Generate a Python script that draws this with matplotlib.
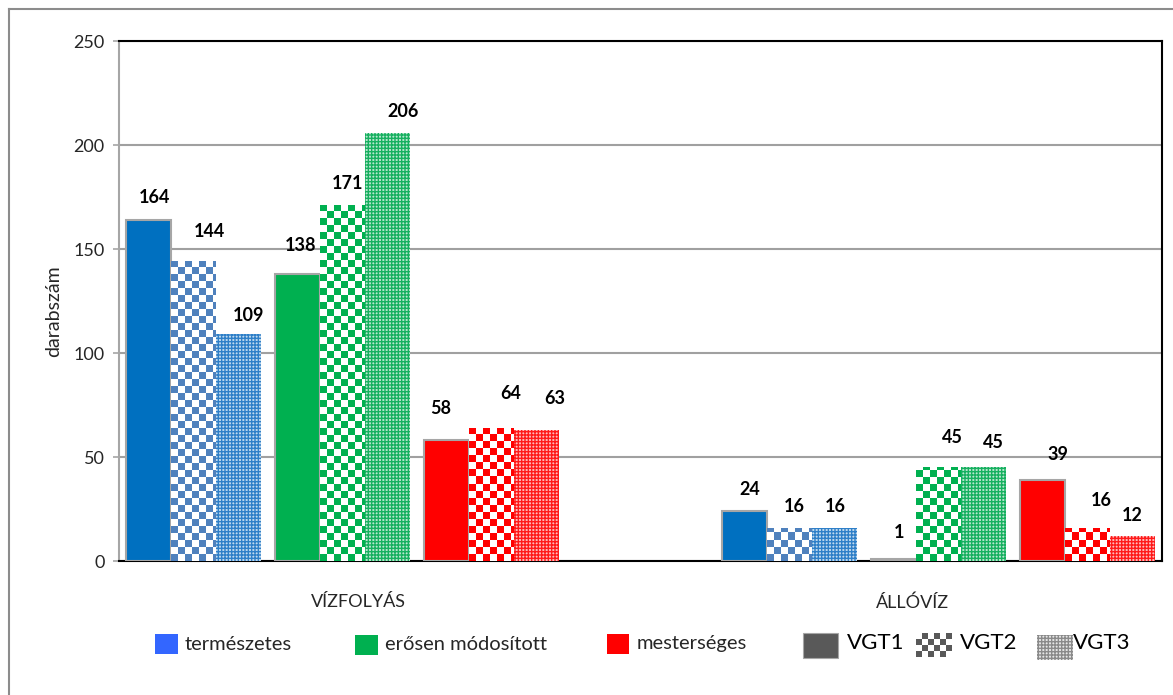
import numpy as np
import matplotlib
matplotlib.use("Agg")
import matplotlib.pyplot as plt
from matplotlib.colors import to_rgb
from matplotlib.patches import Rectangle
from matplotlib.lines import Line2D

# ---- data -------------------------------------------------------------
water_types = ["VÍZFOLYÁS", "ÁLLÓVÍZ"]
classes = ["természetes", "erősen módosított", "mesterséges"]
periods = ["VGT1", "VGT2", "VGT3"]

# counts[class][period]
vizfolyas_counts = [[164, 144, 109],
                    [138, 171, 206],
                    [58, 64, 63]]
allovi_counts = [[24, 16, 16],
                 [1, 45, 45],
                 [39, 16, 12]]

y_ticks = [0, 50, 100, 150, 200, 250]

# ---- style ------------------------------------------------------------
W, H = 1173, 695
DPI = 100
solid_colors = ["#0070C0", "#00B050", "#FF0000"]
check_colors = ["#4F81BD", "#00B050", "#FF0000"]
fine_colors = ["#2E7FC8", "#17B060", "#FF1A1A"]
legend_colors = ["#3366FF", "#00B050", "#FF0000"]
FONT = "Lato"
TXT = "#262626"
MESH = "+++++"

# label offsets (pixels) from the top-centre of each bar
viz_offsets = [[(6, 22), (16, 30), (10, 19)],
               [(3, 28), (5, 22), (16, 21)],
               [(-6, 32), (19, 34), (18, 31)]]
all_offsets = [[(5, 22), (5, 21), (1, 21)],
               [(6, 26), (14, 30), (10, 25)],
               [(15, 25), (14, 27), (0, 21)]]

plt.rcParams["font.family"] = [FONT, "DejaVu Sans"]
plt.rcParams["hatch.linewidth"] = 1.0

fig = plt.figure(figsize=(W / DPI, H / DPI), dpi=DPI)
ax_left, ax_right, ax_top, ax_bottom = 119, 1162, 41, 561
ax = fig.add_axes([ax_left / W, 1 - ax_bottom / H,
                   (ax_right - ax_left) / W, (ax_bottom - ax_top) / H])

x_span = ax_right - ax_left          # x data units == pixels
y_max = 250
px_per_unit = (ax_bottom - ax_top) / y_max

bar_w = 45
class_step = 149
group_starts = [7, 603]
tick_pos = [239, 794]


def tint(color, amount):
    base = np.array(to_rgb(color))
    return tuple(amount * base + (1 - amount))


def checker_image(color, nx, ny):
    """Checkerboard (colour / white), one array cell per pattern cell."""
    ii, jj = np.indices((ny, nx))
    mask = ((ii + jj) % 2 == 0)[..., None]
    return np.where(mask, np.array(to_rgb(color)), np.array([1.0, 1.0, 1.0]))


for g, counts in enumerate([vizfolyas_counts, allovi_counts]):
    offsets = [viz_offsets, all_offsets][g]
    for c in range(3):
        for p in range(3):
            v = counts[c][p]
            x0 = group_starts[g] + c * class_step + p * bar_w
            if p == 0:
                ax.bar(x0, v, width=bar_w, align="edge",
                       color=solid_colors[c], edgecolor="#A6A6A6",
                       linewidth=1.5, zorder=3)
            elif p == 1:
                bars = ax.bar(x0, v, width=bar_w, align="edge",
                              facecolor="none", edgecolor="none",
                              linewidth=0, zorder=3)
                cell = 7
                h_px = v * px_per_unit
                nx = int(np.ceil(bar_w / cell))
                ny = int(np.ceil(h_px / cell)) + 1
                im = ax.imshow(checker_image(check_colors[c], nx, ny),
                               extent=(x0, x0 + nx * cell, 0,
                                       ny * cell / px_per_unit),
                               origin="lower", aspect="auto",
                               interpolation="nearest", zorder=3)
                im.set_clip_path(bars[0])
            else:
                ax.bar(x0, v, width=bar_w, align="edge",
                       facecolor=tint(fine_colors[c], 0.3),
                       edgecolor=fine_colors[c], hatch=MESH,
                       linewidth=0, zorder=3)
            dx, dy = offsets[c][p]
            ax.annotate(str(v), xy=(x0 + bar_w / 2, v), xytext=(dx, dy),
                        textcoords="offset pixels", ha="center",
                        va="center", fontsize=13, fontweight="bold",
                        color="black", zorder=5)

ax.set_xlim(0, x_span)
ax.set_ylim(0, y_max)
ax.set_yticks(y_ticks)
ax.set_xticks(tick_pos)
ax.set_xticklabels(water_types)
ax.tick_params(axis="x", length=0, pad=24, labelsize=13, labelcolor=TXT)
ax.tick_params(axis="y", length=4.5, width=1.2, color="#A6A6A6", pad=6,
               labelsize=13, labelcolor=TXT)
ax.yaxis.grid(True, color="#A0A0A0", linewidth=1.5)
ax.set_axisbelow(True)
for side in ["top", "right", "bottom"]:
    ax.spines[side].set_color("black")
    ax.spines[side].set_linewidth(1.5)
ax.spines["left"].set_color("#A6A6A6")
ax.spines["left"].set_linewidth(1.5)

fig.text(54 / W, 1 - 311 / H, "darabszám", rotation=90, ha="center",
         va="center", fontsize=14, color=TXT)

# outer chart frame
fig.add_artist(Line2D([9 / W, 9 / W], [1 - 9 / H, 0], color="#8C8C8C",
                      linewidth=1.5, transform=fig.transFigure))
fig.add_artist(Line2D([9 / W, 1], [1 - 9 / H, 1 - 9 / H], color="#8C8C8C",
                      linewidth=1.5, transform=fig.transFigure))


def fig_rect(x0, y0, x1, y1):
    return [x0 / W, 1 - y1 / H, (x1 - x0) / W, (y1 - y0) / H]


# legend: land-use classes
class_boxes = [(155, 634, 178, 654), (355, 635, 378, 655), (607, 634, 629, 654)]
class_text_x = [185, 385, 637]
for c in range(3):
    r = fig_rect(*class_boxes[c])
    fig.add_artist(Rectangle((r[0], r[1]), r[2], r[3], facecolor=legend_colors[c],
                             edgecolor="none", transform=fig.transFigure))
    fig.text(class_text_x[c] / W, 1 - 644 / H, classes[c], ha="left",
             va="center", fontsize=14.5, color=TXT)

# legend: planning periods
r = fig_rect(803, 633, 838, 658)
fig.add_artist(Rectangle((r[0], r[1]), r[2], r[3], facecolor="#595959",
                         edgecolor="#A6A6A6", linewidth=0.8,
                         transform=fig.transFigure))
sw = fig.add_axes(fig_rect(916, 633, 952, 657))
sw.imshow(checker_image("#595959", 6, 4),
          aspect="auto", interpolation="nearest", origin="lower")
sw.axis("off")
r = fig_rect(1037, 635, 1073, 660)
fig.add_artist(Rectangle((r[0], r[1]), r[2], r[3],
                         facecolor="#E6E6E6", edgecolor="#8A8A8A",
                         hatch=MESH, linewidth=0, transform=fig.transFigure))

period_text_x = [847, 960, 1073]
for p in range(3):
    fig.text(period_text_x[p] / W, 1 - 643 / H, periods[p], ha="left",
             va="center", fontsize=16, color="black")

fig.savefig("out.png", dpi=DPI)
